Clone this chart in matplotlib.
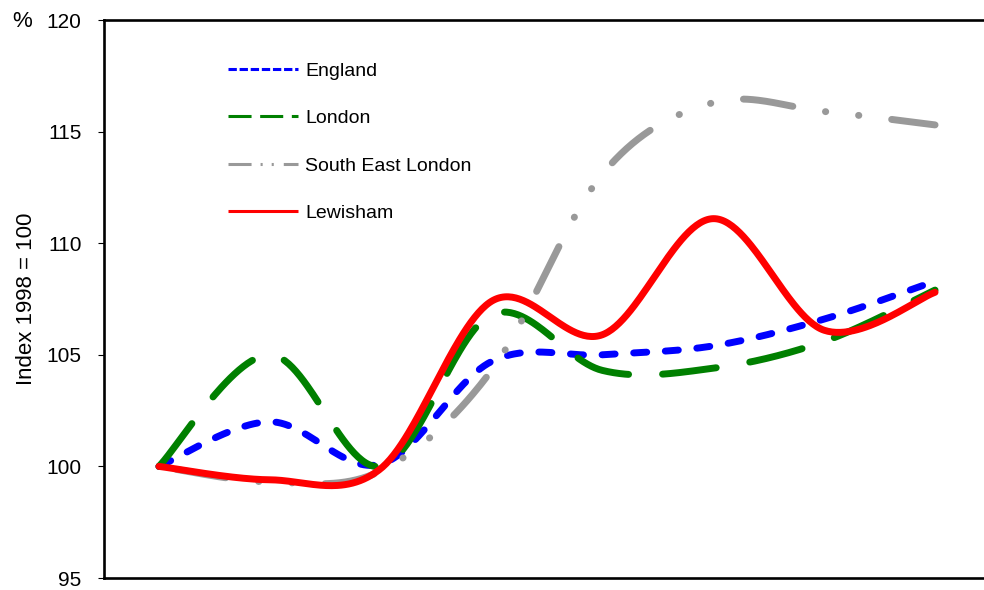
import numpy as np
import matplotlib
matplotlib.use('Agg')
import matplotlib.pyplot as plt
from matplotlib.lines import Line2D

plt.rcParams['font.family'] = ['Liberation Sans', 'DejaVu Sans']
plt.rcParams['lines.scale_dashes'] = False

# ------------------------------------------------------------------
#  Data: index 1998 = 100
# ------------------------------------------------------------------
years = [1998, 1999, 2000, 2001, 2002, 2003, 2004, 2005]

england   = [100.0, 102.0, 100.1, 104.7, 105.0, 105.4, 106.6, 108.3]
london    = [100.0, 105.0, 100.0, 106.8, 104.3, 104.4, 105.6, 107.9]
se_london = [100.0, 99.3, 99.8, 104.3, 113.1, 116.3, 115.9, 115.3]
lewisham  = [100.0, 99.4, 99.9, 107.4, 105.9, 111.1, 106.1, 107.8]

labels = ['England', 'London', 'South East London', 'Lewisham']
colors = ['#0000FF', '#008000', '#999999', '#FF0000']

# dash patterns (points) as (offset, on/off sequence); None = solid
line_dashes = [(0, (9.4, 13.4)),
               (0, (38.9, 24.5)),
               (95.0, (36.0, 23.8, 0.2, 23.8, 0.2, 23.8)),
               None]
key_dashes = [(6.0, 2.0), (16.6, 6.2), (16.6, 6.5, 1.5, 6.5, 1.5, 7.2), None]


def smooth(y, n=60):
    """Excel-style smoothed line: cubic Bezier through every point."""
    y = np.asarray(y, dtype=float)
    x = np.arange(len(y), dtype=float)
    px = np.concatenate([[x[0]], x, [x[-1]]])
    py = np.concatenate([[y[0]], y, [y[-1]]])
    t = np.linspace(0, 1, n)[:, None]
    xs, ys = [], []
    for i in range(len(y) - 1):
        p0 = np.array([px[i + 1], py[i + 1]])
        p3 = np.array([px[i + 2], py[i + 2]])
        c1 = p0 + (p3 - np.array([px[i], py[i]])) / 6
        c2 = p3 - (np.array([px[i + 3], py[i + 3]]) - p0) / 6
        seg = ((1 - t) ** 3) * p0 + 3 * ((1 - t) ** 2) * t * c1 \
            + 3 * (1 - t) * t ** 2 * c2 + t ** 3 * p3
        if i > 0:
            seg = seg[1:]
        xs.append(seg[:, 0])
        ys.append(seg[:, 1])
    return np.concatenate(xs), np.concatenate(ys)


fig = plt.figure(figsize=(9.84, 5.90), dpi=100)
ax = fig.add_axes([103.5 / 984, 12 / 590, 887 / 984, 558 / 590])

series = [england, london, se_london, lewisham]
for vals, col, dsh in zip(series, colors, line_dashes):
    sx, sy = smooth(vals)
    if dsh is None:
        ax.plot(sx, sy, color=col, lw=5, solid_capstyle='round',
                solid_joinstyle='round')
    else:
        ln, = ax.plot(sx, sy, color=col, lw=5, dash_capstyle='round',
                      dash_joinstyle='round')
        ln.set_linestyle(dsh)

ax.set_xlim(-0.5, len(years) - 0.5)
ax.set_ylim(95, 120)
ax.set_yticks(np.arange(95, 121, 5))
ax.set_xticks([])
ax.tick_params(axis='y', direction='out', length=4.3, width=0.8, pad=11.5,
               labelsize=15)
for side in ['left', 'top', 'bottom', 'right']:
    ax.spines[side].set_linewidth(1.9)
    ax.spines[side].set_color('black')

ax.set_ylabel('Index 1998 = 100', fontsize=16)
ax.yaxis.label.set_va('center')
ax.yaxis.set_label_coords(-0.087, 0.50)
ax.text(-0.092, 0.998, '%', transform=ax.transAxes, fontsize=16,
        ha='center', va='center')

handles = []
for col, dsh in zip(colors, key_dashes):
    if dsh is None:
        h = Line2D([], [], color=col, lw=2.2, solid_capstyle='butt')
    else:
        h = Line2D([], [], color=col, lw=2.2, dashes=dsh, dash_capstyle='butt')
    handles.append(h)

fig.legend(handles, labels, loc='upper left', frameon=False, fontsize=14,
           bbox_to_anchor=(228 / 984, 1 - 62 / 590), borderpad=0,
           borderaxespad=0, handlelength=3.6, handletextpad=0.36,
           labelspacing=1.54)

fig.savefig('out.png', dpi=100)
